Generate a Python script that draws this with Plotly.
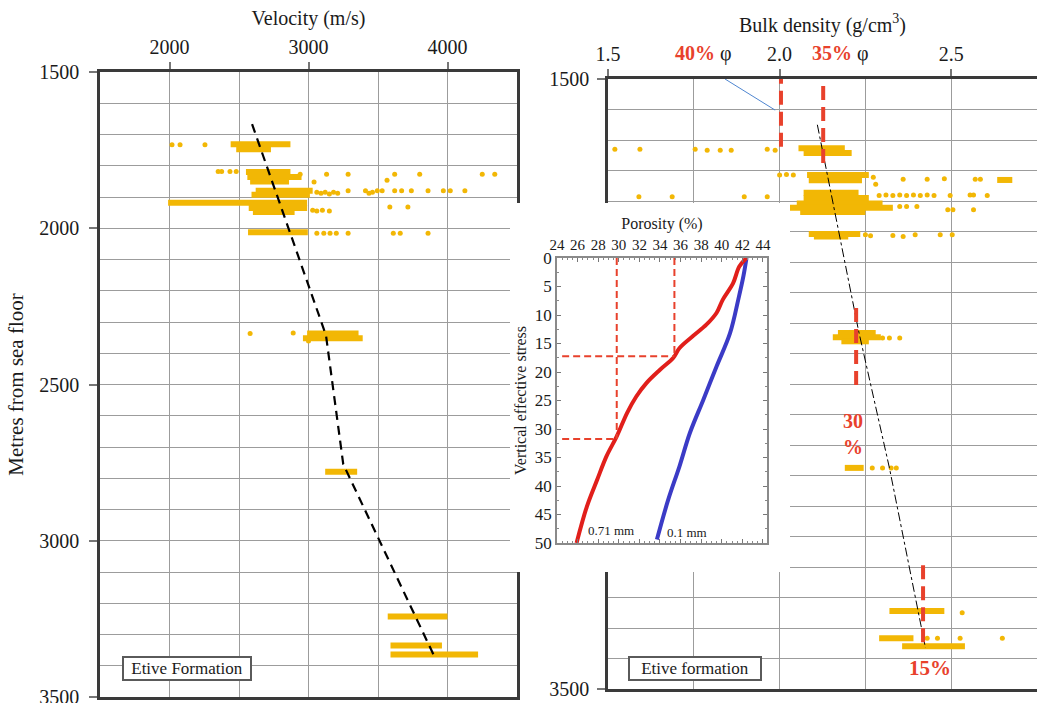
import plotly.graph_objects as go

# ---------------- data ----------------
# Left panel: velocity (m/s) versus depth (m). Dense bands: depth, start, end
vel_band_depth = [1731, 1747, 1820, 1836, 1850, 1880, 1893, 1918, 1935, 1948, 2013, 2337, 2352, 2779, 3242, 3335, 3364]
vel_band_start = [2440, 2480, 2550, 2560, 2580, 2620, 2590, 1990, 2570, 2600, 2565, 2990, 2960, 3120, 3570, 3590, 3590]
vel_band_end = [2870, 2730, 2870, 2950, 2860, 3030, 3010, 2990, 2990, 2900, 2995, 3360, 3390, 3350, 4000, 3960, 4220]
# scattered individual velocity readings
vel_dot_v = [2018, 2076, 2255,
             2350, 2375, 2435, 2480, 2940, 3040, 3130, 3285, 3565, 3620, 3800, 4250, 4340,
             3060, 3090, 3120, 3150, 3180, 3210, 3285, 3410, 3435, 3460, 3495, 3530, 3620, 3670, 3740, 3860, 3970, 4020, 4125,
             3030, 3060, 3100, 3150, 3585, 3715,
             3060, 3110, 3155, 3200, 3285, 3610, 3660, 3860,
             2580, 2890, 3000]
vel_dot_d = [1733, 1733, 1733,
             1818, 1818, 1818, 1818, 1827, 1852, 1827, 1827, 1846, 1827, 1827, 1827, 1827,
             1885, 1888, 1885, 1890, 1885, 1888, 1880, 1880, 1888, 1885, 1880, 1880, 1880, 1880, 1880, 1880, 1880, 1880, 1880,
             1942, 1945, 1942, 1945, 1932, 1932,
             2016, 2016, 2016, 2016, 2016, 2016, 2016, 2016,
             2337, 2335, 2361]
vel_trend_v = [2594, 3126, 3250, 3900]
vel_trend_d = [1667, 2343, 2755, 3365]

# Right panel: bulk density (g/cm3) versus depth (m)
dens_band_depth = [1727, 1743, 1815, 1832, 1831, 1873, 1890, 1908, 1922, 1936, 2008, 2016, 2333, 2347, 2360, 2775, 3244, 3334, 3360]
dens_band_start = [2.055, 2.07, 2.08, 2.085, 2.634, 2.07, 2.07, 2.05, 2.03, 2.06, 2.085, 2.10, 2.17, 2.155, 2.18, 2.19, 2.32, 2.29, 2.357]
dens_band_end = [2.19, 2.21, 2.26, 2.24, 2.678, 2.23, 2.26, 2.30, 2.33, 2.25, 2.235, 2.20, 2.28, 2.295, 2.26, 2.245, 2.48, 2.39, 2.54]
dens_dot_x = [1.52, 1.593, 1.754, 1.789, 1.827, 1.859, 1.964, 1.987,
              2.0, 2.02, 2.04, 2.273, 2.28, 2.36, 2.43, 2.48, 2.57, 2.585,
              1.59, 1.687, 1.897, 1.964, 2.29, 2.31, 2.33, 2.35, 2.37, 2.39, 2.41, 2.43, 2.45, 2.497, 2.555, 2.565, 2.605,
              2.35, 2.37, 2.40, 2.49, 2.505, 2.565,
              2.25, 2.265, 2.33, 2.36, 2.395, 2.468, 2.503,
              2.30, 2.32, 2.35,
              2.27, 2.30, 2.325, 2.34,
              2.532,
              2.43, 2.46, 2.526, 2.649]
dens_dot_d = [1730, 1730, 1730, 1734, 1734, 1734, 1730, 1734,
              1815, 1813, 1815, 1822, 1845, 1829, 1829, 1827, 1829, 1829,
              1886, 1886, 1886, 1886, 1882, 1880, 1882, 1880, 1882, 1880, 1882, 1880, 1882, 1882, 1880, 1880, 1882,
              1918, 1918, 1918, 1929, 1929, 1929,
              2011, 2014, 2013, 2016, 2011, 2011, 2011,
              2349, 2349, 2349,
              2775, 2775, 2775, 2775,
              3250,
              3334, 3334, 3334, 3334]
dens_trend_x = [2.11, 2.23, 2.32, 2.425]
dens_trend_d = [1650, 2325, 2775, 3365]
# red porosity markers (density, top depth, bottom depth)
phi_mark_x = [2.004, 2.127, 2.223, 2.418]
phi_mark_top = [1470, 1523, 2251, 3094]
phi_mark_bot = [1739, 1792, 2520, 3362]
phi_labels = ["40%", "35%"]
phi_label_x = [1.777, 2.176]
leader_x = [1.841, 1.987]
leader_d = [1500, 1602]

# Inset: porosity (%) versus vertical effective stress
red_por = [42.4, 41.7, 41.1, 40.1, 39.5, 38.5, 37.2, 35.9, 35.3, 34.0, 32.7, 31.7, 30.8, 29.8, 28.8, 27.9, 26.9, 25.9]
red_stress = [0, 1.5, 4.4, 7.3, 9.6, 11.7, 13.7, 15.8, 17.5, 19.6, 21.9, 24.3, 27.2, 31.3, 34.8, 38.9, 43.6, 50]
blue_por = [42.4, 42.1, 41.6, 40.8, 39.5, 38.2, 36.9, 35.9, 34.8, 33.7]
blue_stress = [0, 3.2, 7.3, 13.2, 19.0, 24.9, 30.7, 36.5, 42.4, 49.4]
guide_por = [35.4, 29.8]
guide_stress = [17.25, 31.75]
inset_left = 24.5

# ---------------- styling ----------------
W, H = 1037, 703
SERIF = "Liberation Serif"
YEL = "#f2b705"
RED = "#e8412c"
GRID = "#9c9c9c"
FRAME = "#3a3a3a"
TXT = "#1a1a1a"


def dx(p):
    return p / W


def dy(p):
    return 1 - p / H


def segs(starts, ends, levels):
    xs, ys = [], []
    for s, e, l in zip(starts, ends, levels):
        xs += [s, e, None]
        ys += [l, l, None]
    return xs, ys


fig = go.Figure()

# left panel
bx, by = segs(vel_band_start, vel_band_end, vel_band_depth)
fig.add_trace(go.Scatter(x=bx, y=by, mode="lines", line=dict(color=YEL, width=6),
                         xaxis="x", yaxis="y", hoverinfo="skip"))
fig.add_trace(go.Scatter(x=vel_dot_v, y=vel_dot_d, mode="markers",
                         marker=dict(color=YEL, size=5), xaxis="x", yaxis="y"))
fig.add_trace(go.Scatter(x=vel_trend_v, y=vel_trend_d, mode="lines",
                         line=dict(color="black", width=2.2, dash="9px,6px"), xaxis="x", yaxis="y"))

# right panel
bx, by = segs(dens_band_start, dens_band_end, dens_band_depth)
fig.add_trace(go.Scatter(x=bx, y=by, mode="lines", line=dict(color=YEL, width=6),
                         xaxis="x2", yaxis="y2", hoverinfo="skip"))
fig.add_trace(go.Scatter(x=dens_dot_x, y=dens_dot_d, mode="markers",
                         marker=dict(color=YEL, size=5), xaxis="x2", yaxis="y2"))
fig.add_trace(go.Scatter(x=dens_trend_x, y=dens_trend_d, mode="lines",
                         line=dict(color="black", width=1, dash="dashdot"), xaxis="x2", yaxis="y2"))
mx, my = [], []
for x, t, b in zip(phi_mark_x, phi_mark_top, phi_mark_bot):
    mx += [x, x, None]
    my += [t, b, None]
fig.add_trace(go.Scatter(x=mx, y=my, mode="lines", line=dict(color=RED, width=4, dash="14px,7px"),
                         xaxis="x2", yaxis="y2"))
fig.add_trace(go.Scatter(x=leader_x, y=leader_d, mode="lines", line=dict(color="#4f86d0", width=1),
                         xaxis="x2", yaxis="y2"))

# blank background subplot for the inset
fig.add_trace(go.Scatter(x=[0.5], y=[0.5], mode="markers", marker=dict(opacity=0),
                         xaxis="x3", yaxis="y3", hoverinfo="skip"))

# inset
fig.add_trace(go.Scatter(x=blue_por, y=blue_stress, mode="lines", line=dict(color="#3b3bc6", width=4, shape="spline"),
                         xaxis="x4", yaxis="y4"))
fig.add_trace(go.Scatter(x=red_por, y=red_stress, mode="lines", line=dict(color="#e11f1b", width=4, shape="spline"),
                         xaxis="x4", yaxis="y4"))
gx, gy = [], []
for p, s in zip(guide_por, guide_stress):
    gx += [p, p, None, inset_left, p, None]
    gy += [0, s, None, s, s, None]
fig.add_trace(go.Scatter(x=gx, y=gy, mode="lines", line=dict(color=RED, width=2, dash="7px,4px"),
                         xaxis="x4", yaxis="y4"))

tickf = dict(family=SERIF, size=20, color=TXT)
ann = []
ann.append(dict(x=2126, y=3410, xref="x", yref="y", text="Etive Formation", showarrow=False,
                font=dict(family=SERIF, size=17, color=TXT), bordercolor="#5a5a5a", borderwidth=2,
                borderpad=1, bgcolor="white", width=124))
ann.append(dict(x=1.7535, y=3434, xref="x2", yref="y2", text="Etive formation", showarrow=False,
                font=dict(family=SERIF, size=17, color=TXT), bordercolor="#5a5a5a", borderwidth=2,
                borderpad=1, bgcolor="white", width=128))
for lab, lx in zip(phi_labels, phi_label_x):
    ann.append(dict(x=lx, y=1.0426, xref="x2", yref="y2 domain", showarrow=False,
                    xanchor="center", yanchor="middle",
                    text="<span style='color:%s'><b>%s</b></span> φ" % (RED, lab), font=tickf))
ann.append(dict(x=2.214, y=2664, xref="x2", yref="y2", showarrow=False, text="<b>30</b><br><b>%</b>",
                font=dict(family=SERIF, size=20, color=RED)))
ann.append(dict(x=2.439, y=3431, xref="x2", yref="y2", showarrow=False, text="<b>15%</b>",
                font=dict(family=SERIF, size=21, color=RED)))
ann.append(dict(x=29.2, y=47.8, xref="x4", yref="y4", showarrow=False, text="0.71 mm",
                font=dict(family=SERIF, size=13, color=TXT)))
ann.append(dict(x=36.6, y=48.2, xref="x4", yref="y4", showarrow=False, text="0.1 mm",
                font=dict(family=SERIF, size=13, color=TXT)))

frame = dict(showline=True, mirror=True, linecolor=FRAME, linewidth=2.5, zeroline=False,
             ticks="outside", tickcolor="#777", tickwidth=1.5, tickfont=tickf, automargin=False,
             ticklabeloverflow="allow", showgrid=True, gridcolor=GRID, gridwidth=1.2)

fig.update_layout(
    width=W, height=H, margin=dict(l=0, r=0, t=0, b=0, autoexpand=False),
    paper_bgcolor="white", plot_bgcolor="white", showlegend=False,
    font=dict(family=SERIF, color=TXT),
    annotations=ann,
    xaxis=dict(frame, domain=[dx(100), dx(517)], range=[1500, 4500], side="top", anchor="y",
               dtick=1000, tick0=0, ticklen=7,
               minor=dict(dtick=500, tick0=0, showgrid=True, gridcolor=GRID, gridwidth=1.2, ticks=""),
               title=dict(text="Velocity (m/s)", font=dict(family=SERIF, size=20, color=TXT), standoff=6)),
    yaxis=dict(frame, domain=[dy(697), dy(72)], range=[3500, 1500], anchor="x",
               dtick=500, tick0=0, ticklen=8, ticklabelstandoff=6,
               minor=dict(dtick=100, tick0=0, showgrid=True, gridcolor=GRID, gridwidth=1.2, ticks=""),
               title=dict(text="Metres from sea floor", font=dict(family=SERIF, size=21, color=TXT), standoff=10)),
    xaxis2=dict(frame, domain=[dx(608), 1.0], range=[1.5, 2.75], side="top", anchor="y2",
                tickvals=[1.5, 2.0, 2.5], ticktext=["1.5", "2.0", "2.5"], ticklen=7,
                minor=dict(dtick=0.25, tick0=1.5, showgrid=True, gridcolor=GRID, gridwidth=1.2, ticks=""),
                title=dict(text="Bulk density (g/cm<sup>3</sup>)", font=dict(family=SERIF, size=20, color=TXT),
                           standoff=6)),
    yaxis2=dict(frame, domain=[dy(689), dy(79)], range=[3500, 1500], anchor="x2",
                tickvals=[1500, 3500], ticklen=8, showgrid=False, ticklabelstandoff=4,
                minor=dict(dtick=100, tick0=1500, showgrid=True, gridcolor=GRID, gridwidth=1.2, ticks="")),
    xaxis3=dict(domain=[dx(510), dx(790)], range=[0, 1], visible=False, anchor="y3", automargin=False),
    yaxis3=dict(domain=[dy(572), dy(203)], range=[0, 1], visible=False, anchor="x3", automargin=False),
    xaxis4=dict(domain=[dx(557), dx(767)], range=[24, 44.39], side="top", anchor="y4", automargin=False,
                dtick=2, tick0=24, ticks="inside", ticklen=4, tickcolor="#777",
                showline=True, mirror="allticks", linecolor="#8a8a8a", linewidth=1.5,
                showgrid=False, zeroline=False, tickfont=dict(family=SERIF, size=15, color=TXT),
                minor=dict(dtick=0.5, ticks="inside", ticklen=2, tickcolor="#888"),
                title=dict(text="Porosity (%)", font=dict(family=SERIF, size=16, color=TXT), standoff=4)),
    yaxis4=dict(domain=[dy(543), dy(258)], range=[50, 0], anchor="x4", automargin=False,
                dtick=5, tick0=0, ticks="inside", ticklen=4, tickcolor="#777",
                showline=True, mirror="allticks", linecolor="#8a8a8a", linewidth=1.5,
                showgrid=False, zeroline=False, tickfont=dict(family=SERIF, size=17, color=TXT),
                minor=dict(dtick=2.5, ticks="inside", ticklen=2, tickcolor="#888"),
                title=dict(text="Vertical effective stress", font=dict(family=SERIF, size=16, color=TXT),
                           standoff=4)),
)

fig.write_html("out.html", config={"displayModeBar": False},
               post_script="document.body.style.margin='0';document.body.style.overflow='hidden';")
